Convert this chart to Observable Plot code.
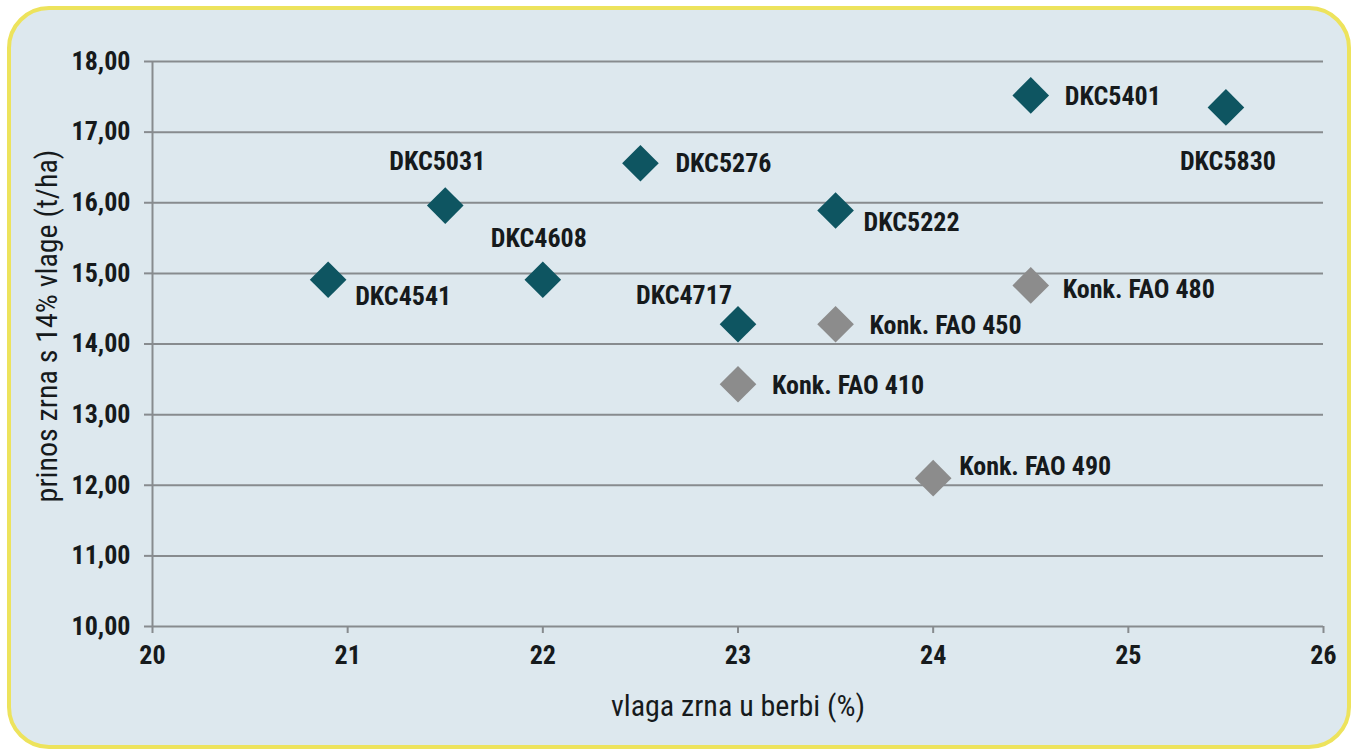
<!DOCTYPE html>
<html><head><meta charset="utf-8">
<script src="https://cdn.jsdelivr.net/npm/d3@7"></script>
<script src="https://cdn.jsdelivr.net/npm/@observablehq/plot@0.6"></script>
<style>
html,body{margin:0;padding:0;background:#fff;}
#wrap{position:relative;width:1357px;height:752px;overflow:hidden;}
#frame{position:absolute;left:7px;top:6px;width:1344px;height:743px;box-sizing:border-box;border:4px solid #ede35c;border-radius:42px;background:#dde8ee;}
#chart{position:absolute;left:0;top:0;}
#chart svg{background:transparent;}
#chart text{font-stretch:condensed;}
</style></head>
<body>
<div id="wrap"><div id="frame"></div><div id="chart"></div></div>
<script>
const names = ["DKC4541","DKC5031","DKC4608","DKC5276","DKC4717","DKC5222","DKC5401","DKC5830","Konk. FAO 410","Konk. FAO 450","Konk. FAO 480","Konk. FAO 490"];
const moisture = [20.9,21.5,22.0,22.5,23.0,23.5,24.5,25.5,23.0,23.5,24.5,24.0];
const yieldT = [14.91,15.96,14.91,16.56,14.28,15.89,17.52,17.35,13.43,14.28,14.83,12.10];
const group = ["DKC","DKC","DKC","DKC","DKC","DKC","DKC","DKC","Konk","Konk","Konk","Konk"];
const xTicks = [20,21,22,23,24,25,26];
const yTicks = [10,11,12,13,14,15,16,17,18];

// label placement (styling)
const place = {
  "DKC4541":{a:"start",dx:27,dy:17},
  "DKC5031":{a:"middle",dx:-8,dy:-44},
  "DKC4608":{a:"middle",dx:-4,dy:-41},
  "DKC5276":{a:"start",dx:35,dy:0},
  "DKC4717":{a:"middle",dx:-54,dy:-29},
  "DKC5222":{a:"start",dx:28,dy:12},
  "DKC5401":{a:"start",dx:34,dy:1},
  "DKC5830":{a:"middle",dx:2,dy:54},
  "Konk. FAO 410":{a:"start",dx:34,dy:1},
  "Konk. FAO 450":{a:"start",dx:34,dy:1},
  "Konk. FAO 480":{a:"start",dx:32,dy:4},
  "Konk. FAO 490":{a:"start",dx:26,dy:-12}
};

const data = names.map((n,i)=>({name:n,x:moisture[i],y:yieldT[i],g:group[i]}));
const font = "'Roboto Condensed', 'DejaVu Sans Condensed', 'DejaVu Sans', sans-serif";
const gridColor = "#878b8e";
const ink = "#161a1c";

const labels = data.map(d => Plot.text([d], {x:"x", y:"y", text:"name", textAnchor:place[d.name].a, dx:place[d.name].dx, dy:place[d.name].dy, fill:ink, fontSize:26, fontWeight:"bold"}));

const plot = Plot.plot({
  width:1357, height:752,
  marginLeft:152, marginRight:34, marginTop:61, marginBottom:126,
  style:{fontFamily:font, background:"transparent", overflow:"visible"},
  x:{type:"linear", domain:[20,26], ticks:xTicks, label:null},
  y:{type:"linear", domain:[10,18], ticks:yTicks, label:null},
  marks:[
    Plot.ruleY(yTicks, {y:d=>d, x1:20, x2:26, stroke:gridColor, strokeWidth:2, strokeOpacity:1}),
    Plot.ruleX([20], {stroke:gridColor, strokeWidth:2, strokeOpacity:1}),
    Plot.axisX({ticks:xTicks, tickSize:7, tickPadding:12, tickFormat:d=>String(d), fontSize:26, fontWeight:"bold", stroke:gridColor, strokeWidth:2, strokeOpacity:1, fill:ink, label:null}),
    Plot.axisY({ticks:yTicks, tickSize:8, tickPadding:14, tickFormat:d=>d.toFixed(2).replace(".",","), fontSize:26, fontWeight:"bold", stroke:gridColor, strokeWidth:2, strokeOpacity:1, fill:ink, label:null}),
    Plot.dot(data, {x:"x", y:"y", symbol:"diamond2", r:16.5, fill:d=>d.g==="DKC"?"#0e5561":"#8c8c8c", stroke:"none"}),
    ...labels,
    Plot.text(["vlaga zrna u berbi (%)"], {frameAnchor:"bottom", lineAnchor:"middle", dy:80, text:d=>d, fontSize:30, fill:ink}),
    Plot.text(["prinos zrna s 14% vlage (t/ha)"], {frameAnchor:"left", textAnchor:"middle", lineAnchor:"middle", dx:-105, dy:-18, rotate:-90, text:d=>d, fontSize:30, fill:ink})
  ]
});
document.getElementById("chart").appendChild(plot);
</script>
</body></html>
